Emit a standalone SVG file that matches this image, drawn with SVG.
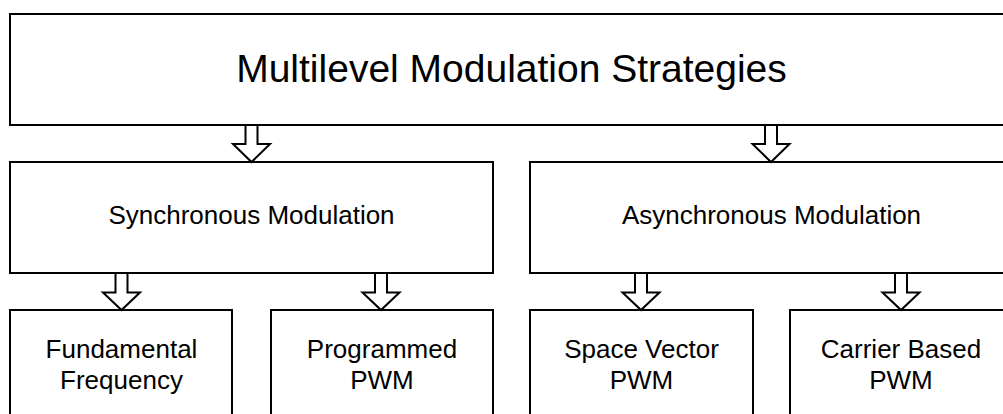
<svg xmlns="http://www.w3.org/2000/svg" width="1003" height="414" viewBox="0 0 1003 414">
<style>
.box{fill:#ffffff;stroke:#000000;stroke-width:2}
.arr{fill:#ffffff;stroke:#000000;stroke-width:2;stroke-linejoin:miter}
text{fill:#000000;text-anchor:middle}
.t1{font-size:39px}
.t2{font-size:26px}
</style>
<rect width="1003" height="414" fill="#ffffff"/>
<g font-family="'Liberation Sans', Arimo, Arial, Helvetica, sans-serif">
<g id="n-root">
<rect class="box" x="10" y="14" width="1015" height="111"/>
<text class="t1" x="511.5" y="82">Multilevel Modulation Strategies</text>
</g>
<g id="n-sync">
<rect class="box" x="10" y="162" width="483" height="111"/>
<text class="t2" x="251.5" y="224">Synchronous Modulation</text>
</g>
<g id="n-async">
<rect class="box" x="530" y="162" width="495" height="111"/>
<text class="t2" x="771.5" y="224">Asynchronous Modulation</text>
</g>
<g id="n-fund">
<rect class="box" x="10" y="310" width="222" height="130"/>
<text class="t2" x="121.5" y="358">Fundamental</text>
<text class="t2" x="121.5" y="389">Frequency</text>
</g>
<g id="n-prog">
<rect class="box" x="271" y="310" width="222" height="130"/>
<text class="t2" x="382" y="358">Programmed</text>
<text class="t2" x="382" y="389">PWM</text>
</g>
<g id="n-svpwm">
<rect class="box" x="530" y="310" width="223" height="130"/>
<text class="t2" x="641.5" y="358">Space Vector</text>
<text class="t2" x="641.5" y="389">PWM</text>
</g>
<g id="n-carrier">
<rect class="box" x="790" y="310" width="240" height="130"/>
<text class="t2" x="901" y="358">Carrier Based</text>
<text class="t2" x="901" y="389">PWM</text>
</g>
</g>
<g id="connectors">
<polygon class="arr" points="245.5,125 257.5,125 257.5,144 270,144 251.5,162 233,144 245.5,144"/>
<polygon class="arr" points="765,125 777,125 777,144 789.5,144 771,162 752.5,144 765,144"/>
<polygon class="arr" points="115.5,273 127.5,273 127.5,292.5 140,292.5 121.5,310 103,292.5 115.5,292.5"/>
<polygon class="arr" points="375,273 387,273 387,292.5 399.5,292.5 381,310 362.5,292.5 375,292.5"/>
<polygon class="arr" points="635,273 647,273 647,292.5 659.5,292.5 641,310 622.5,292.5 635,292.5"/>
<polygon class="arr" points="895,273 907,273 907,292.5 919.5,292.5 901,310 882.5,292.5 895,292.5"/>
</g>
</svg>
